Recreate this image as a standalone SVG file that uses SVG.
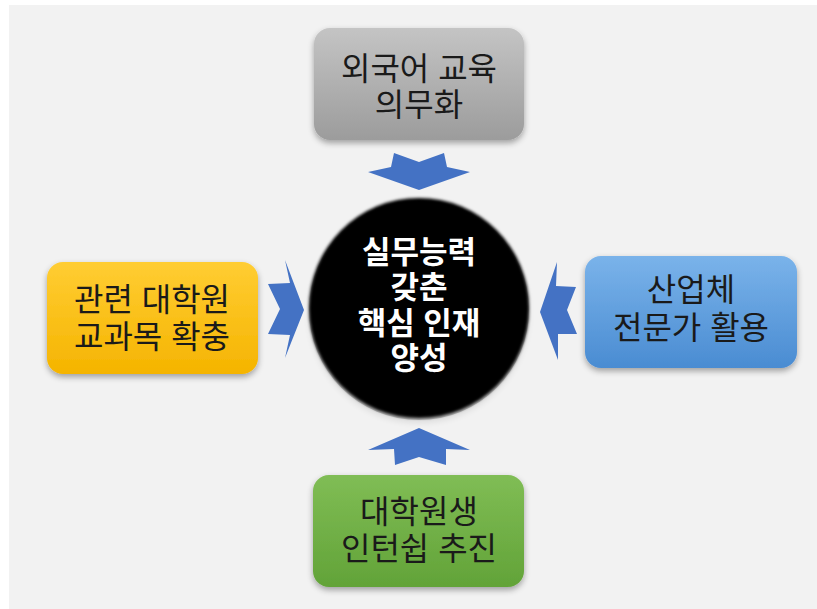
<svg xmlns="http://www.w3.org/2000/svg" width="817" height="609" viewBox="0 0 817 609">
<defs>
<linearGradient id="gGray" x1="0" y1="0" x2="0" y2="1"><stop offset="0" stop-color="#c4c4c4"/><stop offset="1" stop-color="#9c9c9c"/></linearGradient>
<linearGradient id="gYellow" x1="0" y1="0" x2="0" y2="1"><stop offset="0" stop-color="#ffcd33"/><stop offset="1" stop-color="#f5b400"/></linearGradient>
<linearGradient id="gBlue" x1="0" y1="0" x2="0" y2="1"><stop offset="0" stop-color="#7ab3ea"/><stop offset="1" stop-color="#4a8cd2"/></linearGradient>
<linearGradient id="gGreen" x1="0" y1="0" x2="0" y2="1"><stop offset="0" stop-color="#80bd55"/><stop offset="1" stop-color="#62a338"/></linearGradient>
<filter id="sh" x="-20%" y="-20%" width="140%" height="150%"><feGaussianBlur in="SourceAlpha" stdDeviation="3"/><feOffset dx="0" dy="3" result="b"/><feComponentTransfer><feFuncA type="linear" slope="0.35"/></feComponentTransfer><feMerge><feMergeNode/><feMergeNode in="SourceGraphic"/></feMerge></filter>
<filter id="soft" x="-10%" y="-10%" width="120%" height="125%"><feGaussianBlur stdDeviation="1.5"/></filter>
</defs>
<style>
.t{font-family:"Liberation Sans","Noto Sans CJK KR",sans-serif;font-size:32px;fill:#1a1a1a;text-anchor:middle}
.w{font-family:"Liberation Sans","Noto Sans CJK KR",sans-serif;font-size:31px;font-weight:bold;fill:#fff;text-anchor:middle}
.arr{fill:#4472c4}
</style>
<rect x="0" y="0" width="817" height="609" fill="#fff"/>
<rect x="9" y="5" width="808" height="604" fill="#f2f2f2"/>
<g id="connectors">
<polygon class="arr" points="394,153 419,162 444,153 447,167 470,172 419,190 368,172 391,167"/>
<polygon class="arr" points="419,428 470,450 446,449 446,465 419,457 395,465 394,449 368,450"/>
<polygon class="arr" points="268,284 290,283 285,260 304,310 285,358 290,335 268,334 280,309"/>
<polygon class="arr" points="540,312 557,262 556,286 576,287 567,310 577,334 558,334 558,360"/>
</g>
<g id="center">
<circle cx="419" cy="310" r="110" fill="#000" opacity="0.25" filter="url(#sh)"/>
<circle cx="419" cy="308" r="110" fill="#050505" filter="url(#soft)"/>
<text class="w" x="419"><tspan x="419" y="263">실무능력</tspan><tspan x="419" y="298">갖춘</tspan><tspan x="419" y="334">핵심 인재</tspan><tspan x="419" y="369">양성</tspan></text>
</g>
<g id="top">
<rect x="314" y="28" width="210" height="112" rx="16" fill="url(#gGray)" filter="url(#sh)"/>
<text class="t"><tspan x="419" y="80">외국어 교육</tspan><tspan x="419" y="116">의무화</tspan></text>
</g>
<g id="left">
<rect x="47" y="262" width="211" height="112" rx="16" fill="url(#gYellow)" filter="url(#sh)"/>
<text class="t"><tspan x="152" y="311">관련 대학원</tspan><tspan x="152" y="348">교과목 확충</tspan></text>
</g>
<g id="right">
<rect x="585" y="256" width="212" height="112" rx="16" fill="url(#gBlue)" filter="url(#sh)"/>
<text class="t"><tspan x="691" y="301">산업체</tspan><tspan x="691" y="339">전문가 활용</tspan></text>
</g>
<g id="bottom">
<rect x="313" y="475" width="211" height="112" rx="16" fill="url(#gGreen)" filter="url(#sh)"/>
<text class="t"><tspan x="419" y="523">대학원생</tspan><tspan x="419" y="560">인턴쉽 추진</tspan></text>
</g>
</svg>
